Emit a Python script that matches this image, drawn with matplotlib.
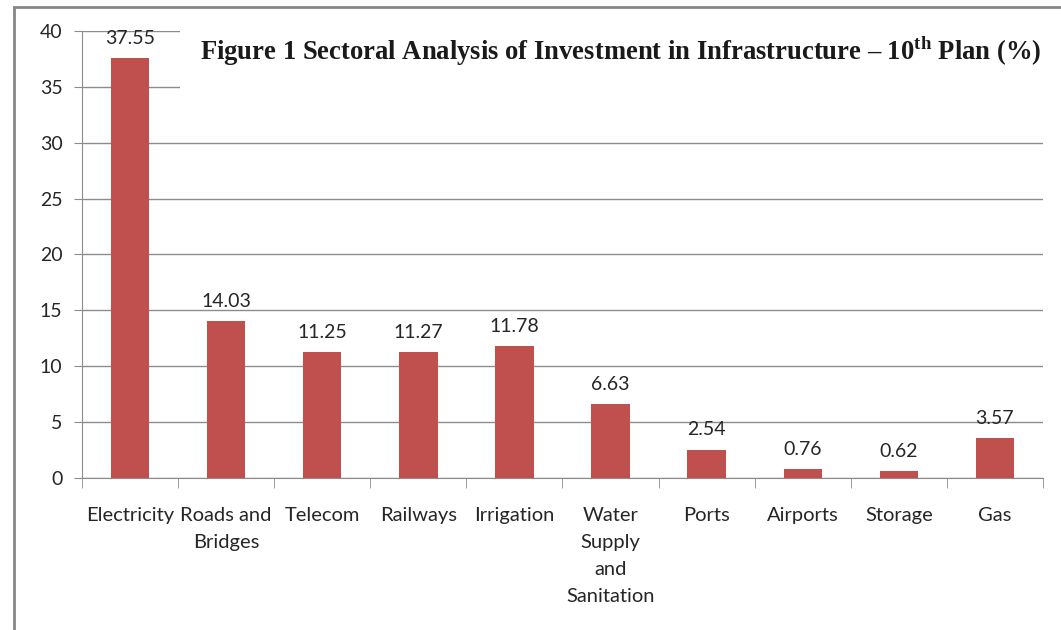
import matplotlib.pyplot as plt
import numpy as np
from matplotlib.patches import Rectangle

plt.rcParams['font.family'] = ['Lato', 'DejaVu Sans']
plt.rcParams['mathtext.fontset'] = 'custom'
plt.rcParams['mathtext.bf'] = 'Liberation Serif:bold'
plt.rcParams['mathtext.rm'] = 'Liberation Serif:bold'

# Data
sectors = ['Electricity', 'Roads and\nBridges', 'Telecom', 'Railways', 'Irrigation',
           'Water\nSupply\nand\nSanitation', 'Ports', 'Airports', 'Storage', 'Gas']
shares = [37.55, 14.03, 11.25, 11.27, 11.78, 6.63, 2.54, 0.76, 0.62, 3.57]
yticks = [0, 5, 10, 15, 20, 25, 30, 35, 40]

bar_color = '#C0504D'
grid_color = '#8C8C8C'
text_color = '#262626'

fig = plt.figure(figsize=(10.61, 6.3), dpi=100)
ax = fig.add_axes([0.0773, 0.2413, 0.9057, 0.7095])

# outer chart border (only top and left visible in the reference)
fig.patches.append(Rectangle((0.0132, -0.1), 1.2, 1.1 - 0.0111, transform=fig.transFigure,
                             fill=False, edgecolor='#878787', linewidth=2))

x = np.arange(len(sectors))
ax.bar(x, shares, width=0.4, color=bar_color, zorder=3)
for xi, v in zip(x, shares):
    ax.annotate(f'{v:.2f}', (xi, v), xytext=(0, 8), textcoords='offset points',
                ha='center', va='bottom', fontsize=14, color=text_color, zorder=5)

ax.set_xlim(-0.5, len(sectors) - 0.5)
ax.set_ylim(0, 40)
ax.set_yticks(yticks)
ax.set_yticklabels([str(t) for t in yticks])
ax.yaxis.grid(True, color=grid_color, linewidth=1)
ax.set_axisbelow(True)

ax.set_xticks(x)
ax.set_xticklabels(sectors, fontsize=14.5, color=text_color, linespacing=1.72, va='top')
ax.tick_params(axis='x', length=0, pad=21)
ax.set_xticks(np.arange(-0.5, len(sectors)), minor=True)
ax.tick_params(axis='x', which='minor', length=7, color=grid_color, direction='out')
ax.tick_params(axis='y', length=6, color=grid_color, pad=8, labelsize=14,
               labelcolor=text_color)

for s in ['top', 'right']:
    ax.spines[s].set_visible(False)
for s in ['left', 'bottom']:
    ax.spines[s].set_color(grid_color)

# white box behind the title hides the top gridlines
ax.add_patch(Rectangle((0.52, 32.3), 10, 7.9, facecolor='white', edgecolor='none',
                       zorder=2, clip_on=False))
ax.text(0.9985, 0.954,
        r'Figure 1 Sectoral Analysis of Investment in Infrastructure – 10$^{\mathbf{th}}$ Plan (%)',
        transform=ax.transAxes, ha='right', va='center', fontsize=19.2,
        family='Liberation Serif', weight='bold', color='#1a1a1a', zorder=6)

fig.savefig('out.png', dpi=100)
